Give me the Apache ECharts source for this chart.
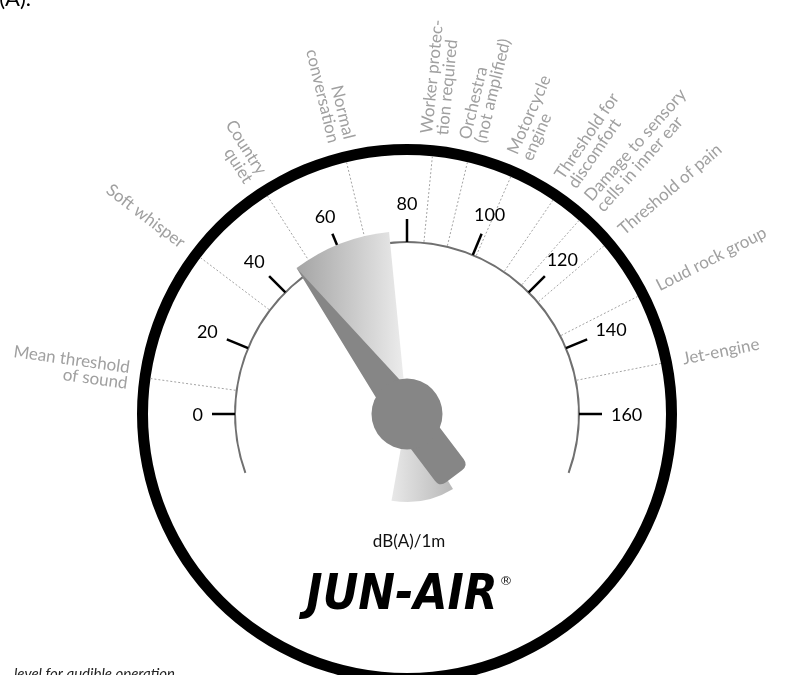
<!DOCTYPE html>
<html>
<head>
<meta charset="utf-8">
<style>html,body{margin:0;padding:0;background:#fff}#container{width:787px;height:675px}</style>
<script src="https://cdn.jsdelivr.net/npm/echarts@6/dist/echarts.min.js"></script>
</head>
<body>
<div id="container"></div>
<script>
// dB values
const tickValues = [0, 20, 40, 60, 80, 100, 120, 140, 160];
const noteNames = [
    'Mean threshold\nof sound', 'Soft whisper', 'Country\nquiet', 'Normal\nconversation',
    'Worker protec-\ntion required', 'Orchestra\n(not amplified)', 'Motorcycle\nengine',
    'Threshold for\ndiscomfort', 'Damage to sensory\ncells in inner ear', 'Threshold of pain',
    'Loud rock group', 'Jet-engine'
];
const noteValues = [7, 33, 51, 68, 85, 92, 101, 110.5, 117, 124, 136, 150];
const needleValue = 47;
const fanRange = [47, 75];
// tail fan behind the hub, on the same scale carried on round the full turn (0-320)
const tailRange = [212, 249];

const CX = 407, CY = 414;
const R_ARC = 173, R_RING = 270, R_NOTE = 281;

let dom = document.getElementById('container');
let myChart = echarts.init(dom);

function baseGauge(extra) {
    return Object.assign({
        type: 'gauge', center: [CX, CY], radius: R_ARC,
        startAngle: 180, endAngle: 0, min: 0, max: 160, splitNumber: 8,
        axisLine: { show: false, lineStyle: { width: 0 } },
        splitLine: { show: false }, axisTick: { show: false }, axisLabel: { show: false },
        pointer: { show: false }, anchor: { show: false },
        title: { show: false }, detail: { show: false }, progress: { show: false },
        silent: true, data: [{ value: 0 }]
    }, extra);
}

//注释线和文字
function renderNote(params, api) {
    const v = api.value(0);
    const cs = params.coordSys;
    const a = api.coord([R_ARC, v]);
    const b = api.coord([R_RING - 11, v]);
    const t = api.coord([R_NOTE, v]);
    const th = Math.atan2(cs.cy - t[1], t[0] - cs.cx);
    const outward = th < Math.PI / 2;
    return {
        type: 'group',
        children: [{
            type: 'line',
            shape: { x1: a[0], y1: a[1], x2: b[0], y2: b[1] },
            style: { stroke: '#a3a3a3', lineWidth: 1, lineDash: [2, 2] }
        }, {
            type: 'text',
            x: t[0], y: t[1],
            rotation: outward ? th : th - Math.PI,
            style: {
                text: noteNames[params.dataIndex],
                align: outward ? 'left' : 'right', verticalAlign: 'middle',
                fill: '#a0a0a0', font: '17px Lato', lineHeight: 16
            }
        }]
    };
}

//刻度数字
function renderTick(params, api) {
    const v = api.value(0);
    const cs = params.coordSys;
    const p = api.coord([100, v]);
    const ux = (p[0] - cs.cx) / 100, uy = (p[1] - cs.cy) / 100;
    const w = String(v).length * 10.4, h = 13;
    const r = 204 + Math.abs(ux) * w / 2 + Math.abs(uy) * h / 2;
    const q = api.coord([r, v]);
    return {
        type: 'text',
        style: {
            text: String(v), x: q[0], y: q[1] + 1,
            align: 'center', verticalAlign: 'middle',
            fill: '#000', font: '18px Lato'
        }
    };
}

//扇形
function renderFan(params, api) {
    const cs = params.coordSys;
    const rad = params.dataIndex === 0 ? 183 : 88;
    const pa = api.coord([rad, api.value(0)]);
    const pb = api.coord([rad, api.value(1)]);
    let s = Math.atan2(pa[1] - cs.cy, pa[0] - cs.cx);
    let e = Math.atan2(pb[1] - cs.cy, pb[0] - cs.cx);
    if (e < s) e += Math.PI * 2;
    const fill = params.dataIndex === 0
        ? new echarts.graphic.LinearGradient(0, 0, 1, 0, [{ offset: 0, color: '#a4a4a4' }, { offset: 1, color: '#eeeeee' }])
        : new echarts.graphic.LinearGradient(0, 0, 1, 0, [{ offset: 0, color: '#e8e8e8' }, { offset: 1, color: '#b8b8b8' }]);
    return {
        type: 'sector',
        shape: { cx: cs.cx, cy: cs.cy, r: rad, r0: 0, startAngle: s, endAngle: e, clockwise: true },
        style: { fill: fill }
    };
}

let option = {
    animation: false,
    polar: { center: [CX, CY], radius: 300 },
    angleAxis: { type: 'value', min: 0, max: 320, startAngle: 180, clockwise: true, show: false },
    radiusAxis: { type: 'value', min: 0, max: 300, show: false },
    graphic: [
        { type: 'text', style: { text: 'dB(A).', x: 31, y: 10, align: 'right', verticalAlign: 'bottom', font: '22px Lato', fill: '#000' } },
        { type: 'text', style: { text: 'dB(A)/1m', x: 409, y: 542, align: 'center', verticalAlign: 'middle', font: '17px Lato', fill: '#111' } },
        { type: 'text', x: 402, y: 596, scaleY: 1.15, style: { text: 'JUN-AIR', x: 0, y: 0, align: 'center', verticalAlign: 'middle', font: 'italic 900 44px "DejaVu Sans"', fill: '#000' } },
        { type: 'text', style: { text: '®', x: 506, y: 582, align: 'center', verticalAlign: 'middle', font: '13px "DejaVu Sans"', fill: '#222' } },
        { type: 'text', style: { text: 'level for audible operation', x: 14, y: 667, align: 'left', verticalAlign: 'top', font: 'italic 15px Lato', fill: '#222' } }
    ],
    series: [
        baseGauge({ radius: R_RING, startAngle: 90, endAngle: -270, axisLine: { show: true, lineStyle: { width: 11, color: [[1, '#000']] } } }),
        baseGauge({ startAngle: 200, endAngle: -20, axisLine: { show: true, lineStyle: { width: 2, color: [[1, '#707070']] } } }),
        baseGauge({ radius: R_ARC - 1, splitLine: { show: true, length: 23, distance: -23, lineStyle: { width: 2.5, color: '#000' } } }),
        { type: 'custom', coordinateSystem: 'polar', silent: true, renderItem: renderNote, data: noteValues.map(v => [v]) },
        { type: 'custom', coordinateSystem: 'polar', silent: true, renderItem: renderTick, data: tickValues.map(v => [v]) },
        { type: 'custom', coordinateSystem: 'polar', silent: true, renderItem: renderFan, data: [fanRange, tailRange] },
        baseGauge({
            pointer: {
                show: true,
                icon: 'path://M18 0L36 183L36 253Q36 261 28 261L8 261Q0 261 0 253L0 183Z',
                length: 261, width: 36, offsetCenter: [0, 78],
                itemStyle: { color: '#868686' }
            },
            anchor: { show: true, showAbove: true, size: 71, itemStyle: { color: '#868686' } },
            data: [{ value: needleValue }]
        })
    ]
};

myChart.setOption(option);
</script>
</body>
</html>
